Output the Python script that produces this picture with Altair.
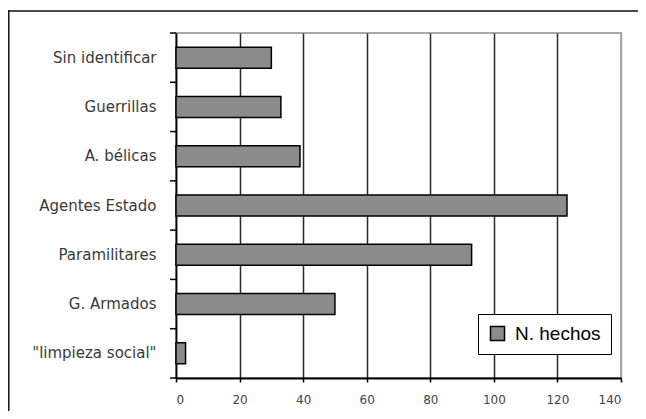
import altair as alt
import pandas as pd

categories = ["Sin identificar", "Guerrillas", "A. bélicas", "Agentes Estado",
              "Paramilitares", "G. Armados", "\"limpieza social\""]
values = [30, 33, 39, 123, 93, 50, 3]
x_ticks = [0, 20, 40, 60, 80, 100, 120, 140]
series_name = "N. hechos"

df = pd.DataFrame({"cat": categories, "val": values})
bounds = pd.DataFrame({"k": list(range(len(categories) + 1))})

W, H = 445, 345

bars = alt.Chart(df).mark_bar(
    stroke="black", strokeWidth=1.5
).encode(
    x=alt.X("val:Q",
            scale=alt.Scale(domain=[0, 140], nice=False),
            axis=alt.Axis(values=x_ticks, title=None, grid=True,
                          gridColor={"condition": {"test": "datum.value >= 140", "value": "#a8a8a8"},
                                     "value": "#2a2a2a"},
                          gridWidth=1.5,
                          domainColor="black", domainWidth=2,
                          tickColor="black", tickSize=4, tickWidth=1.5,
                          labelFont="DejaVu Sans", labelFontSize=12,
                          labelColor="#444", labelPadding=12)),
    y=alt.Y("cat:N", sort=categories,
            scale=alt.Scale(paddingInner=0.574, paddingOuter=0.287),
            axis=alt.Axis(title=None, ticks=False, domainColor="black",
                          domainWidth=1.5, labelFont="DejaVu Sans",
                          labelFontSize=15, labelColor="#3a3a3a",
                          labelPadding=20)),
    color=alt.Color("s:N", scale=alt.Scale(range=["#8c8c8c"]),
                    legend=alt.Legend(title=None, orient="none",
                                      legendX=302, legendY=281,
                                      strokeColor="black", fillColor="white",
                                      padding=10, symbolType="square",
                                      symbolSize=196, symbolStrokeColor="black",
                                      symbolStrokeWidth=1.5, labelFont="Liberation Sans",
                                      labelFontSize=19, labelColor="black",
                                      labelOffset=8)),
).transform_calculate(s=f"'{series_name}'")

ticks = alt.Chart(bounds).mark_rule(color="black", strokeWidth=1.5).encode(
    y=alt.Y("k:Q", scale=alt.Scale(domain=[0, len(categories)], nice=False), axis=None),
    x=alt.value(-6), x2=alt.value(0),
)

frame_top = alt.Chart(bounds.head(1)).mark_rect(color="#111111", strokeWidth=0).encode(
    x=alt.value(-168), x2=alt.value(462), y=alt.value(-22.75), y2=alt.value(-21.25)
)
frame_left = alt.Chart(bounds.head(1)).mark_rect(color="#111111", strokeWidth=0).encode(
    x=alt.value(-168), x2=alt.value(-166.5), y=alt.value(-22.75), y2=alt.value(378)
)

chart = alt.layer(bars, ticks, frame_top, frame_left).resolve_scale(
    y="independent"
).properties(
    width=W, height=H,
    autosize=alt.AutoSizeParams(type="none"),
    padding={"left": 168, "top": 25, "right": 17, "bottom": 33},
).configure_view(stroke="#a8a8a8", strokeWidth=2)

chart.save("out.html", embed_options={"renderer": "svg", "actions": False})
